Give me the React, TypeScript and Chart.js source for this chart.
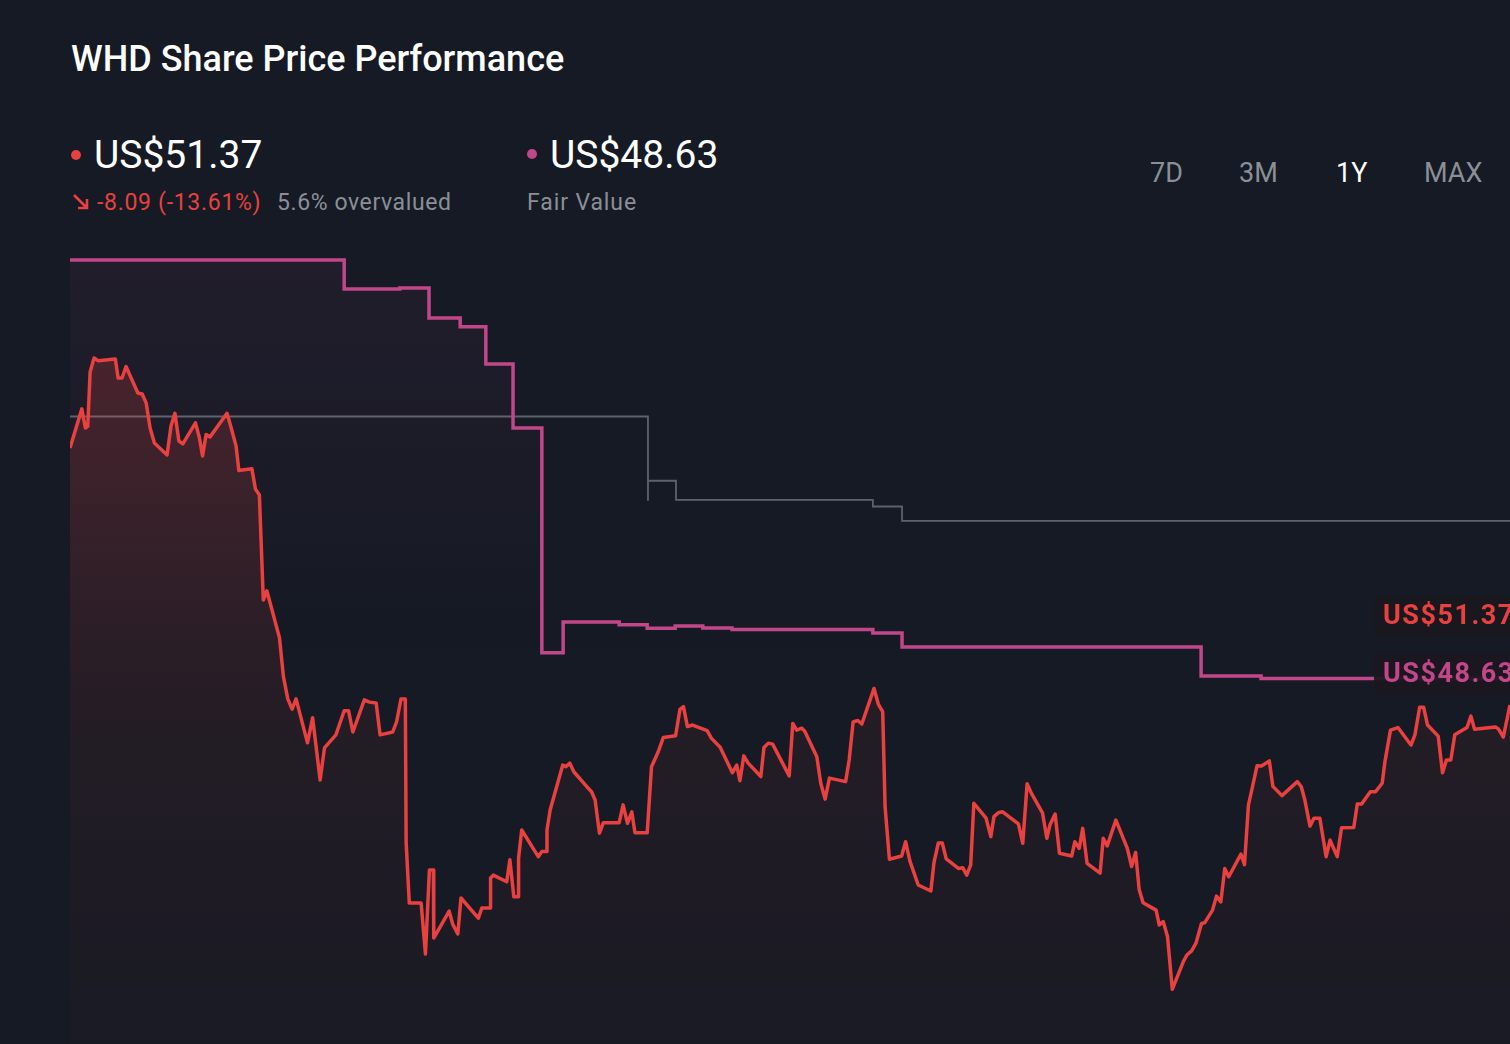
import React, { useEffect, useRef } from "react";
import { Chart, registerables } from "chart.js";

Chart.register(...registerables);

// ---- Data (days since start of the 1Y window, USD) ----
const priceDays = [
  0, 3.0, 3.9, 4.5, 5.1, 6.1, 7.2, 11.5, 12.2, 13.2, 14.2, 17.2, 18.3, 19.3, 20.3, 21.4, 24.6, 25.6, 26.6, 27.6,
  28.6, 31.8, 32.8, 33.6, 34.5, 35.5, 39.8, 40.8, 42.1, 42.8, 46.1, 47.0, 48.0, 49.0, 49.9, 53.1, 54.1, 55.2, 56.3, 57.3,
  60.2, 61.5, 63.4, 64.5, 67.4, 69.5, 70.6, 71.7, 74.6, 75.9, 77.6, 78.6, 81.8, 82.8, 83.9, 85.0, 85.2, 86.0, 89.0, 90.1,
  91.1, 92.1, 92.2, 96.1, 97.0, 98.3, 99.1, 103.5, 104.4, 106.5, 106.6, 107.3, 110.7, 111.5, 112.5, 113.6, 113.7, 114.5, 117.9, 118.7,
  119.6, 120.8, 120.9, 121.7, 124.9, 125.7, 126.7, 127.7, 131.0, 132.2, 133.1, 134.2, 135.2, 139.2, 140.2, 141.3, 142.4, 143.2, 146.3, 147.4,
  149.1, 150.4, 153.5, 154.6, 155.5, 156.5, 157.8, 161.5, 162.6, 164.8, 167.9, 169.0, 169.8, 170.8, 171.9, 175.1, 175.9, 177.0, 178.1, 182.3,
  183.2, 184.2, 185.5, 186.3, 189.3, 190.3, 191.4, 192.5, 196.6, 197.5, 198.5, 199.7, 200.7, 203.8, 204.9, 206.0, 206.6, 207.7, 210.8, 211.8,
  212.9, 215.0, 218.2, 219.0, 220.1, 221.1, 222.1, 225.2, 226.3, 227.3, 228.3, 229.1, 232.2, 233.4, 234.2, 235.3, 236.4, 240.4, 241.5, 242.6,
  243.7, 246.5, 247.6, 248.4, 249.7, 250.8, 253.9, 254.7, 255.8, 256.7, 257.8, 261.1, 261.9, 262.9, 265.1, 268.0, 269.1, 270.1, 271.0, 272.0,
  275.3, 276.1, 277.1, 278.2, 279.4, 282.2, 283.1, 284.3, 285.4, 286.8, 287.6, 289.6, 290.6, 291.7, 292.7, 293.7, 296.8, 297.7, 298.7, 300.9,
  302.0, 304.0, 304.9, 307.2, 311.1, 312.1, 313.0, 314.3, 315.3, 316.8, 318.4, 319.4, 321.2, 322.3, 325.4, 326.3, 327.4, 329.6, 330.9, 332.6,
  333.3, 334.7, 336.6, 339.9, 340.9, 342.1, 343.1, 344.1, 346.8, 347.9, 348.9, 350.0, 351.0, 354.1, 355.1, 356.0, 361.3, 362.1, 363.3, 365,
];
const prices = [
  59.45, 60.68, 60.08, 60.13, 61.84, 62.28, 62.19, 62.25, 61.65, 61.65, 62.01, 61.18, 61.15, 60.87, 60.08, 59.61, 59.23, 60.14, 60.54, 59.67,
  59.58, 60.24, 59.77, 59.2, 59.87, 59.8, 60.54, 60.11, 59.51, 58.74, 58.8, 58.16, 57.97, 54.67, 54.96, 53.48, 52.26, 51.56, 51.24, 51.56,
  50.18, 50.97, 49.01, 50.02, 50.43, 51.19, 51.19, 50.52, 51.53, 51.46, 51.43, 50.43, 50.52, 50.85, 51.56, 51.56, 47.06, 45.14, 45.14, 43.54,
  46.18, 46.18, 44.04, 44.89, 44.48, 44.17, 45.3, 44.67, 44.99, 44.99, 45.93, 46.02, 45.81, 46.5, 45.34, 45.34, 46.56, 47.44, 46.76, 46.6,
  46.76, 46.76, 47.44, 48.07, 49.48, 49.43, 49.54, 49.27, 48.8, 48.64, 48.38, 47.34, 47.67, 47.67, 48.23, 47.65, 48.01, 47.35, 47.35, 49.43,
  49.9, 50.35, 50.4, 51.23, 51.32, 50.69, 50.74, 50.56, 50.32, 50.04, 49.24, 49.48, 48.99, 49.77, 49.54, 49.12, 50.03, 50.17, 50.14, 49.14,
  50.79, 50.58, 50.64, 50.53, 49.74, 48.91, 48.41, 49.07, 48.96, 49.64, 50.84, 50.88, 50.77, 51.89, 51.39, 51.16, 48.17, 46.52, 46.62, 47.07,
  46.46, 45.71, 45.52, 46.42, 47.03, 47.03, 46.53, 46.23, 46.25, 46.02, 46.34, 48.28, 47.81, 47.23, 47.86, 47.98, 48.01, 47.63, 47.02, 48.89,
  48.59, 47.98, 47.18, 47.6, 47.94, 46.71, 46.62, 47.07, 46.86, 47.49, 46.39, 46.08, 47.18, 46.94, 47.75, 46.86, 46.29, 46.73, 45.57, 45.15,
  44.92, 44.45, 44.56, 44.08, 42.43, 43.3, 43.51, 43.64, 43.88, 44.5, 44.52, 44.92, 45.36, 45.18, 46.23, 45.97, 46.68, 46.35, 48.22, 49.46,
  49.45, 49.61, 48.81, 48.52, 48.96, 48.8, 48.38, 47.56, 47.81, 47.81, 46.6, 47.12, 46.6, 47.51, 47.52, 48.26, 48.26, 48.64, 48.64, 48.91,
  49.59, 50.58, 50.66, 50.11, 50.43, 51.3, 51.3, 50.74, 50.39, 49.24, 49.64, 49.64, 50.43, 50.66, 51.02, 50.61, 50.68, 50.61, 50.36, 51.37,
];

const fairValueDays = [0, 69.5, 83.6, 91.0, 98.9, 105.4, 112.3, 119.6, 125.0, 139.2, 146.3, 153.4, 160.4, 167.8, 203.5, 210.9, 286.7, 301.9, 365];
const fairValues = [61.79, 60.88, 60.91, 59.97, 59.69, 58.52, 56.51, 49.44, 50.41, 50.32, 50.21, 50.28, 50.22, 50.17, 50.06, 49.62, 48.71, 48.63, 48.63];

const targetDays = [0, 146.5, 146.5, 153.6, 203.5, 210.9, 365];
const targetValues = [56.87, 54.22, 54.85, 54.25, 54.04, 53.59, 53.59];

const timeframes = ["7D", "3M", "1Y", "MAX"];
const activeTimeframe = "1Y";

const lastPrice = "US$51.37";
const priceChange = "-8.09 (-13.61%)";
const valuationText = "5.6% overvalued";
const fairValueText = "US$48.63";

const RED = "#e8413f";
const MAGENTA = "#c2478a";
const BG = "#151a24";
const FONT = "Roboto, 'Noto Sans', sans-serif";

const labelPlugin = {
  id: "endLabels",
  afterDatasetsDraw(chart: any) {
    const { ctx, chartArea } = chart;
    const yFv = chart.scales.y2.getPixelForValue(fairValues[fairValues.length - 1]) - 4;
    const yPriceRaw = chart.scales.y.getPixelForValue(prices[prices.length - 1]);
    const boxH = 42;
    const gap = 16;
    let yPrice = yPriceRaw;
    if (Math.abs(yPrice - yFv) < boxH + gap) yPrice = yFv - (boxH + gap);
    const left = chartArea.right - 136;
    const draw = (yc: number, text: string, color: string, bg: string) => {
      ctx.save();
      ctx.fillStyle = bg;
      ctx.beginPath();
      ctx.roundRect(left, yc - boxH / 2, 150, boxH, 7);
      ctx.fill();
      ctx.fillStyle = color;
      ctx.font = `700 27px ${FONT}`;
      (ctx as any).letterSpacing = "1.5px";
      ctx.textBaseline = "middle";
      ctx.textAlign = "left";
      ctx.fillText(text, left + 9, yc + 1);
      ctx.restore();
    };
    draw(yPrice, lastPrice, RED, "rgba(27,25,31,0.97)");
    draw(yFv, fairValueText, MAGENTA, "rgba(28,23,33,0.94)");
  },
};

function ChartCanvas() {
  const ref = useRef<HTMLCanvasElement | null>(null);
  useEffect(() => {
    if (!ref.current) return;
    const priceFill = (c: any) => {
      const { chart } = c;
      const area = chart.chartArea;
      if (!area) return "rgba(232,65,63,0.1)";
      const g = chart.ctx.createLinearGradient(0, area.top + 100, 0, area.bottom);
      g.addColorStop(0, "rgba(232,65,63,0.21)");
      g.addColorStop(0.55, "rgba(232,65,63,0.07)");
      g.addColorStop(1, "rgba(232,65,63,0.02)");
      return g;
    };
    const fvFill = (c: any) => {
      const { chart } = c;
      const area = chart.chartArea;
      if (!area) return "rgba(194,71,138,0.05)";
      const g = chart.ctx.createLinearGradient(0, area.top, 0, area.top + 420);
      g.addColorStop(0, "rgba(194,71,138,0.08)");
      g.addColorStop(1, "rgba(194,71,138,0)");
      return g;
    };
    const chart = new Chart(ref.current, {
      type: "line",
      data: {
        datasets: [
          {
            label: "Share Price",
            data: priceDays.map((d, i) => ({ x: d, y: prices[i] })),
            yAxisID: "y",
            borderColor: RED,
            borderWidth: 3.5,
            borderJoinStyle: "round",
            pointRadius: 0,
            tension: 0,
            fill: "start",
            backgroundColor: priceFill,
          },
          {
            label: "Fair Value",
            data: fairValueDays.map((d, i) => ({ x: d, y: fairValues[i] })),
            yAxisID: "y2",
            borderColor: MAGENTA,
            borderWidth: 3.5,
            stepped: true,
            pointRadius: 0,
            fill: "start",
            backgroundColor: fvFill,
          },
          {
            label: "Analyst Price Target",
            data: targetDays.map((d, i) => ({ x: d, y: targetValues[i] })),
            yAxisID: "y2",
            borderColor: "#5d636d",
            borderWidth: 1.8,
            stepped: true,
            pointRadius: 0,
            fill: false,
          },
        ],
      } as any,
      options: {
        animation: false,
        responsive: false,
        maintainAspectRatio: false,
        devicePixelRatio: 1,
        layout: { padding: 0 },
        events: [],
        scales: {
          x: { type: "linear", min: 0, max: 365, display: false },
          y: { type: "linear", min: 40.71, max: 65.99, display: false },
          y2: { type: "linear", min: 37.14, max: 62.42, display: false },
        },
        plugins: {
          legend: { display: false },
          tooltip: { enabled: false },
        },
      } as any,
      plugins: [labelPlugin],
    });
    return () => chart.destroy();
  }, []);
  return (
    <canvas
      ref={ref}
      width={1440}
      height={804}
      style={{ position: "absolute", left: 70, top: 240, width: 1440, height: 804 }}
    />
  );
}

export default function App() {
  useEffect(() => {
    document.body.style.margin = "0";
    document.body.style.background = BG;
  }, []);
  const abs = (left: number, top: number, size: number, extra: any = {}) => ({
    position: "absolute" as const,
    left,
    top,
    fontSize: size,
    lineHeight: `${size}px`,
    whiteSpace: "nowrap" as const,
    fontFamily: FONT,
    ...extra,
  });
  const tfX = [1150, 1239, 1336, 1424];
  return (
    <div
      style={{
        position: "fixed",
        left: 0,
        top: 0,
        width: 1510,
        height: 1044,
        background: BG,
        overflow: "hidden",
        fontFamily: FONT,
      }}
    >
      <div style={abs(71, 41, 36, { color: "#ffffff", fontWeight: 500 })}>WHD Share Price Performance</div>

      <div style={{ position: "absolute", left: 71, top: 150, width: 10, height: 10, borderRadius: 5, background: RED }} />
      <div style={abs(94, 136, 39, { color: "#ffffff" })}>{lastPrice}</div>

      <svg style={{ position: "absolute", left: 71, top: 193 }} width={20} height={18} viewBox="0 0 20 18">
        <path d="M3 2 L16 15 M16 6 L16 15 L7 15" stroke={RED} strokeWidth={2.6} fill="none" />
      </svg>
      <div style={abs(97, 191, 23, { color: RED, letterSpacing: "0.7px" })}>{priceChange}</div>
      <div style={abs(277, 191, 23, { color: "#8a8f98", letterSpacing: "0.6px" })}>{valuationText}</div>

      <div style={{ position: "absolute", left: 527, top: 149, width: 10, height: 10, borderRadius: 5, background: MAGENTA }} />
      <div style={abs(550, 136, 39, { color: "#ffffff" })}>{fairValueText}</div>
      <div style={abs(527, 191, 23, { color: "#8a8f98", letterSpacing: "0.9px" })}>Fair Value</div>

      {timeframes.map((t, i) => (
        <div
          key={t}
          style={abs(tfX[i], 160, 27, { color: t === activeTimeframe ? "#ffffff" : "#8a8f98" })}
        >
          {t}
        </div>
      ))}

      <ChartCanvas />
    </div>
  );
}
